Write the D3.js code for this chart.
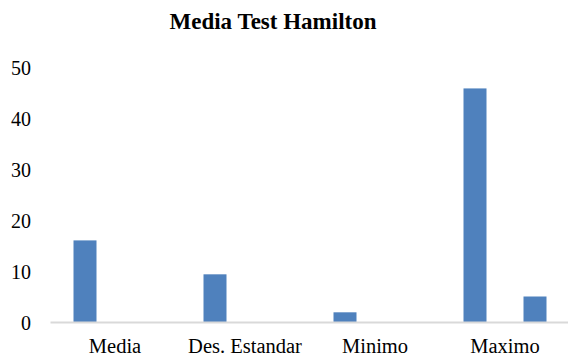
<!doctype html>
<html lang="en">
  <head>
    <meta charset="utf-8">
    <title>Media Test Hamilton</title>
    <style>
      body { margin: 0; background: #fff; }
      text { font-family: "Liberation Serif", "Times New Roman", serif; fill: #000; }
    </style>
  </head>
  <body>
    <script src="https://cdn.jsdelivr.net/npm/d3@7"></script>
    <script>
      var categories = ["Media", "Des. Estandar", "Minimo", "Maximo"];
      var series1 = [16, 9.35, 1.9, 45.8];
      var series2 = [0, 0, 0, 5];
      var yTicks = [0, 10, 20, 30, 40, 50];

      var width = 568, height = 358;
      var margin = {top: 67, right: -2, bottom: 36, left: 50};

      var svg = d3.select("body")
        .append("svg")
        .attr("width", width)
        .attr("height", height);

      var x = d3.scaleBand()
        .domain(categories)
        .range([margin.left, width - margin.right])
        .padding(0);

      // two bars per category, spaced apart like the original
      var xs = d3.scaleBand()
        .domain(["s1", "s2"])
        .range([0, x.bandwidth()])
        .paddingInner(0.6167)
        .paddingOuter(0.3917);

      var y = d3.scaleLinear()
        .domain([0, 50])
        .range([322, margin.top]);

      var rows = categories.map(function(c, i){
        return {cat: c, values: [{k: "s1", v: series1[i]}, {k: "s2", v: series2[i]}]};
      });

      var groups = svg.selectAll(".cat")
        .data(rows)
        .enter()
        .append("g")
        .attr("transform", function(d){ return "translate(" + x(d.cat) + ",0)"; });

      groups.selectAll("rect")
        .data(function(d){ return d.values.filter(function(v){ return v.v > 0; }); })
        .enter()
        .append("rect")
        .attr("x", function(d){ return xs(d.k); })
        .attr("y", function(d){ return y(d.v); })
        .attr("width", xs.bandwidth())
        .attr("height", function(d){ return y(0) - y(d.v); })
        .attr("fill", "#4f81bd");

      // y axis labels only
      var yAxis = svg.append("g")
        .attr("transform", "translate(31,0)")
        .call(d3.axisLeft(y).tickValues(yTicks).tickSize(0).tickPadding(0));
      yAxis.select(".domain").remove();
      yAxis.selectAll("text")
        .attr("dy", "0.35em")
        .style("font-family", "'Liberation Serif', serif")
        .style("font-size", "20px");

      // category axis
      var xAxis = svg.append("g")
        .attr("transform", "translate(0," + y(0) + ")")
        .call(d3.axisBottom(x).tickSize(0).tickPadding(16));
      xAxis.select(".domain")
        .attr("stroke", "#d9d9d9")
        .attr("stroke-width", 2);
      xAxis.selectAll("text")
        .style("font-family", "'Liberation Serif', serif")
        .style("font-size", "20.5px");

      svg.append("text")
        .attr("x", 273)
        .attr("y", 29)
        .attr("text-anchor", "middle")
        .style("font-size", "23px")
        .style("font-weight", "bold")
        .text("Media Test Hamilton");
    </script>
  </body>
</html>
